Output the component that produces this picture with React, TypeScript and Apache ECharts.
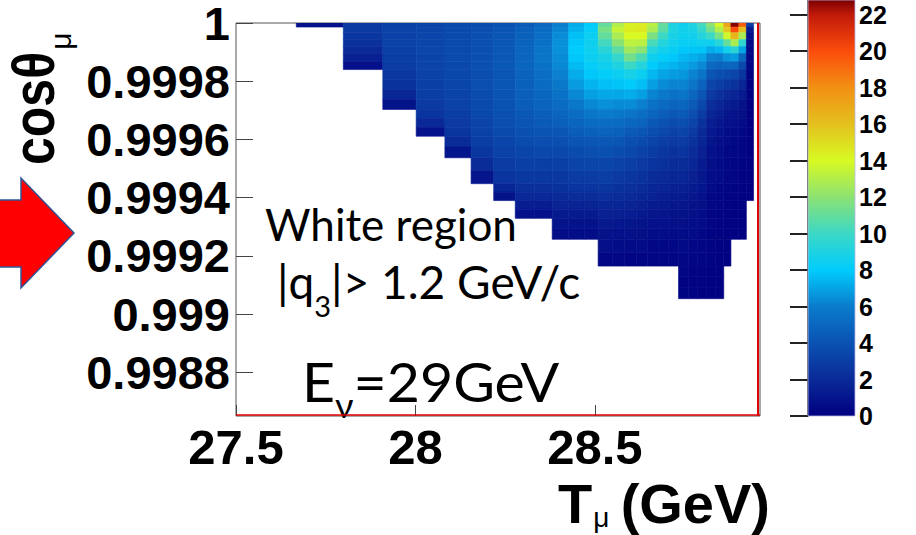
import React, { useEffect, useRef } from "react";
import * as echarts from "echarts";

// Bin edges along T_mu (GeV); the bins narrow towards the kinematic end point
const tMuEdges = [
  27.668, 27.799, 27.909, 28.002, 28.082, 28.155, 28.218, 28.278, 28.332, 28.381,
  28.427, 28.47, 28.509, 28.548, 28.582, 28.615, 28.646, 28.676, 28.705, 28.733,
  28.76, 28.786, 28.811, 28.835, 28.859, 28.879, 28.901, 28.922, 28.942,
];

// Bin edges along cos(theta_mu), from the forward direction downwards
const cosEdges = [
  1.0, 0.999986, 0.999967, 0.999943, 0.999919, 0.999895, 0.999867, 0.99984, 0.999806,
  0.999771, 0.999737, 0.999703, 0.999672, 0.999641, 0.999611, 0.999574, 0.999537,
  0.999492, 0.999448, 0.999419, 0.99939, 0.99936, 0.999329, 0.999293, 0.999257,
  0.999211, 0.999165, 0.999128, 0.99909, 0.999053,
];

// Bin contents, one list per T_mu column, read from the top cos bin downwards.
// Each column stops where the |q3| > 1.2 GeV/c cut removes the phase space.
const binCounts: number[][] = [
  [0.8],
  [2.8, 2.8, 2.6, 2.3, 2.0, 1.5, 0.8],
  [3.1, 3.2, 3.2, 3.2, 3.1, 3.0, 2.9, 2.7, 2.4, 1.8, 0.9],
  [3.3, 3.4, 3.4, 3.4, 3.4, 3.3, 3.3, 3.2, 3.1, 3.0, 2.8, 2.5, 1.9, 0.9],
  [3.5, 3.6, 3.6, 3.6, 3.6, 3.6, 3.5, 3.5, 3.4, 3.3, 3.2, 3.0, 2.8, 2.6, 2.1, 1.0],
  [3.7, 3.8, 3.9, 3.9, 3.9, 3.9, 3.9, 3.8, 3.8, 3.7, 3.6, 3.5, 3.3, 3.2, 3.0, 2.6, 2.1, 1.0],
  [4.0, 4.1, 4.2, 4.3, 4.3, 4.3, 4.3, 4.2, 4.2, 4.1, 4.0, 3.9, 3.8, 3.6, 3.4, 3.2, 2.9, 2.5, 1.8, 0.9],
  [4.4, 4.6, 4.7, 4.8, 4.9, 4.9, 4.9, 4.8, 4.7, 4.6, 4.5, 4.3, 4.1, 3.9, 3.7, 3.4, 3.1, 2.7, 2.3, 1.9, 1.4, 0.8],
  [5.0, 5.2, 5.4, 5.5, 5.6, 5.6, 5.5, 5.4, 5.2, 5.0, 4.8, 4.6, 4.4, 4.1, 3.8, 3.5, 3.1, 2.7, 2.3, 1.9, 1.4, 0.8],
  [6.0, 6.2, 6.4, 6.5, 6.5, 6.4, 6.3, 6.1, 5.8, 5.5, 5.2, 4.9, 4.6, 4.2, 3.9, 3.5, 3.1, 2.7, 2.4, 2.0, 1.7, 1.3, 0.9, 0.6],
  [7.2, 7.4, 7.7, 7.9, 8.0, 7.9, 7.6, 7.2, 6.8, 6.3, 5.8, 5.3, 4.9, 4.5, 4.1, 3.7, 3.3, 2.9, 2.5, 2.1, 1.7, 1.3, 0.9, 0.6],
  [8.0, 8.2, 8.4, 8.5, 8.5, 8.4, 8.2, 7.9, 7.4, 6.9, 6.3, 5.7, 5.2, 4.7, 4.2, 3.8, 3.4, 2.9, 2.5, 2.1, 1.7, 1.3, 0.9, 0.6],
  [11.0, 11.5, 11.0, 10.2, 9.4, 8.8, 8.5, 8.1, 7.7, 7.1, 6.5, 5.9, 5.3, 4.8, 4.3, 3.9, 3.4, 3.0, 2.6, 2.2, 1.8, 1.5, 1.2, 0.9, 0.7, 0.4],
  [13.0, 13.5, 12.8, 11.9, 10.8, 9.8, 9.0, 8.4, 7.8, 7.1, 6.4, 5.8, 5.2, 4.7, 4.2, 3.7, 3.2, 2.8, 2.4, 2.1, 1.8, 1.5, 1.1, 0.8, 0.6, 0.4],
  [14.3, 14.5, 14.0, 13.3, 12.5, 11.4, 10.0, 8.8, 8.0, 7.2, 6.4, 5.6, 5.0, 4.4, 3.9, 3.5, 3.0, 2.6, 2.3, 2.0, 1.7, 1.4, 1.0, 0.8, 0.5, 0.3],
  [14.5, 14.6, 14.0, 13.2, 12.0, 10.4, 9.2, 8.4, 7.7, 6.9, 6.1, 5.4, 4.8, 4.2, 3.7, 3.2, 2.8, 2.4, 2.1, 1.8, 1.5, 1.2, 0.9, 0.7, 0.5, 0.3],
  [13.2, 12.8, 11.6, 10.3, 9.2, 8.5, 8.0, 7.5, 6.9, 6.2, 5.5, 4.9, 4.3, 3.8, 3.3, 2.9, 2.5, 2.1, 1.8, 1.6, 1.3, 1.1, 0.8, 0.6, 0.4, 0.3],
  [11.0, 10.8, 10.0, 9.2, 8.6, 8.1, 7.6, 7.0, 6.4, 5.8, 5.1, 4.5, 4.0, 3.5, 3.0, 2.6, 2.3, 2.0, 1.7, 1.4, 1.2, 1.0, 0.8, 0.6, 0.4, 0.3],
  [9.0, 9.0, 8.8, 8.6, 8.3, 7.9, 7.4, 6.8, 6.2, 5.5, 4.9, 4.3, 3.7, 3.2, 2.8, 2.4, 2.1, 1.8, 1.5, 1.3, 1.1, 0.9, 0.7, 0.5, 0.4, 0.3],
  [8.5, 8.6, 8.5, 8.3, 7.9, 7.5, 7.1, 6.7, 6.2, 5.6, 5.0, 4.4, 3.8, 3.3, 2.9, 2.5, 2.1, 1.8, 1.5, 1.3, 1.1, 0.9, 0.7, 0.6, 0.5, 0.4, 0.3, 0.2, 0.2],
  [9.0, 8.8, 8.6, 8.3, 7.8, 7.3, 6.8, 6.2, 5.6, 5.0, 4.4, 3.8, 3.3, 2.8, 2.4, 2.1, 1.8, 1.5, 1.3, 1.1, 0.9, 0.7, 0.6, 0.5, 0.4, 0.3, 0.2, 0.2, 0.2],
  [10.2, 9.8, 9.2, 8.5, 7.8, 7.0, 6.3, 5.6, 4.8, 4.1, 3.5, 2.9, 2.4, 2.0, 1.8, 1.5, 1.3, 1.1, 1.0, 0.8, 0.7, 0.6, 0.5, 0.4, 0.3, 0.3, 0.2, 0.2, 0.1],
  [12.0, 11.3, 10.0, 8.5, 7.2, 6.1, 5.1, 4.2, 3.4, 2.8, 2.2, 1.8, 1.4, 1.2, 1.0, 0.8, 0.7, 0.6, 0.5, 0.4, 0.4, 0.3, 0.3, 0.2, 0.2, 0.2, 0.1, 0.1, 0.1],
  [14.0, 13.0, 11.5, 9.3, 7.5, 6.0, 4.8, 3.8, 3.0, 2.3, 1.8, 1.4, 1.1, 0.9, 0.7, 0.6, 0.5, 0.5, 0.4, 0.3, 0.3, 0.2, 0.2, 0.2, 0.1, 0.1, 0.1, 0.1, 0.1],
  [17.2, 15.8, 13.8, 11.0, 8.6, 6.6, 5.0, 3.6, 2.6, 1.9, 1.4, 1.0, 0.8, 0.6, 0.5, 0.4, 0.4, 0.3, 0.3, 0.2, 0.2, 0.2, 0.1, 0.1, 0.1, 0.1],
  [22.7, 20.0, 16.5, 12.8, 9.4, 6.8, 4.9, 3.4, 2.4, 1.7, 1.2, 0.9, 0.7, 0.5, 0.4, 0.4, 0.3, 0.3, 0.2, 0.2, 0.1, 0.1, 0.1, 0.1],
  [19.5, 16.0, 12.8, 9.6, 7.0, 5.0, 3.6, 2.6, 1.8, 1.3, 0.9, 0.7, 0.5, 0.4, 0.3, 0.3, 0.2, 0.2, 0.2, 0.1, 0.1, 0.1, 0.1, 0.1],
  [3.0, 1.2, 0.7, 0.5, 0.4, 0.3, 0.3, 0.2, 0.2, 0.2, 0.1, 0.1, 0.1, 0.1, 0.1, 0.1, 0.1, 0.1, 0.1, 0.1],
];

// Axis ranges and tick labels
const xRange = [27.5, 28.96];
const yRange = [0.99865, 1.0];
const zRange = [0, 22.8];
const xTickValues = [27.5, 28, 28.5];
const yTickValues = [0.9988, 0.999, 0.9992, 0.9994, 0.9996, 0.9998, 1];
const zTickValues = [0, 2, 4, 6, 8, 10, 12, 14, 16, 18, 20, 22];

// Rainbow colour palette (value -> colour)
const paletteStops = [0, 2, 4, 6, 8, 10, 12, 14, 16, 18, 20, 22, 22.8];
const paletteColors = [
  "#000080", "#0a2a98", "#0a52b2", "#0a7ccc", "#00ccfc", "#3cd8c6", "#8ce272",
  "#d8fa22", "#e4c01e", "#f29014", "#fc4c0c", "#c01a0a", "#7c0000",
];

const GRID = { left: 236, top: 23, width: 524, height: 393 };
const BAR = { left: 808, top: 0, width: 47, height: 416 };

function hexToRgb(h: string) {
  const n = parseInt(h.slice(1), 16);
  return [(n >> 16) & 255, (n >> 8) & 255, n & 255];
}

function paletteColor(v: number) {
  const lo = paletteStops[0];
  const hi = paletteStops[paletteStops.length - 1];
  const x = Math.min(hi, Math.max(lo, v));
  let i = 0;
  while (i < paletteStops.length - 2 && x > paletteStops[i + 1]) i++;
  const t = (x - paletteStops[i]) / (paletteStops[i + 1] - paletteStops[i]);
  const a = hexToRgb(paletteColors[i]);
  const b = hexToRgb(paletteColors[i + 1]);
  const c = a.map((av, k) => Math.round(av + (b[k] - av) * t));
  return `rgb(${c[0]},${c[1]},${c[2]})`;
}

const fmtTick = (v: number) => String(parseFloat(Number(v).toFixed(4)));

export default function App() {
  const ref = useRef<HTMLDivElement>(null);

  useEffect(() => {
    const el = ref.current;
    if (!el) return;
    const chart = echarts.init(el, null, { renderer: "svg" });

    const ctx = document.createElement("canvas").getContext("2d")!;
    const measure = (t: string, font: string) => {
      ctx.font = font;
      return ctx.measureText(t).width;
    };

    // one rectangle per histogram cell: [x0, x1, cosTop, cosBottom, count]
    const cells: number[][] = [];
    binCounts.forEach((col, c) => {
      col.forEach((v, r) => {
        cells.push([tMuEdges[c], tMuEdges[c + 1], cosEdges[r], cosEdges[r + 1], v]);
      });
    });

    const gradientStops = paletteStops.map((s, i) => ({
      offset: (s - zRange[0]) / (zRange[1] - zRange[0]),
      color: paletteColors[i],
    }));

    const bold = '"Liberation Sans", Arial, sans-serif';
    const sans = 'Lato, "Open Sans", sans-serif';

    // fonts of the in-plot annotations
    const annFont = `44px ${sans}`;
    const qFont = `46px ${sans}`;
    const subFont = `29px ${sans}`;
    const bigFont = `54px ${sans}`;
    const nuFont = `34px ${sans}`;

    const q3w1 = measure("|q", qFont);
    const q3w2 = measure("3", subFont);
    const ew1 = measure("E", bigFont);
    const ew2 = measure("ν", nuFont);

    const yTitleFont = `bold 50px ${bold}`;
    const yTitleW = measure("cosθ", yTitleFont);
    const xTitleFont = `bold 56px ${bold}`;
    const tW = measure("T", xTitleFont);

    const gRight = GRID.left + GRID.width;
    const gBottom = GRID.top + GRID.height;

    const txt = (text: string, font: string, x: number, y: number, extra: any = {}) => ({
      type: "text", x, y, silent: true,
      style: { text, font, fill: "#000", align: "left", verticalAlign: "middle", ...(extra.style || {}) },
      ...(extra.el || {}),
    });

    const option: any = {
      animation: false,
      backgroundColor: "#ffffff",
      grid: [
        {
          left: GRID.left, top: GRID.top, width: GRID.width, height: GRID.height,
          show: true, borderColor: "#555", borderWidth: 1, backgroundColor: "transparent",
          outerBoundsMode: "none",
        },
        {
          left: BAR.left, top: BAR.top, width: BAR.width, height: BAR.height,
          show: false, outerBoundsMode: "none",
        },
      ],
      xAxis: [
        {
          type: "value", gridIndex: 0, min: xRange[0], max: xRange[1],
          axisLine: { show: false },
          splitLine: { show: false },
          axisTick: { show: true, inside: true, length: 11, customValues: xTickValues, lineStyle: { color: "#444", width: 1 } },
          axisLabel: {
            customValues: xTickValues, formatter: fmtTick, margin: 6,
            fontSize: 49, fontWeight: "bold", fontFamily: bold, color: "#000",
          },
        },
        { type: "value", gridIndex: 1, min: 0, max: 1, show: false },
      ],
      yAxis: [
        {
          type: "value", gridIndex: 0, min: yRange[0], max: yRange[1],
          axisLine: { show: false },
          splitLine: { show: false },
          axisTick: { show: true, inside: true, length: 17, customValues: yTickValues, lineStyle: { color: "#444", width: 1 } },
          axisLabel: {
            customValues: yTickValues, formatter: fmtTick, margin: 6, padding: [6, 0, 0, 0],
            lineHeight: 38,
            fontSize: 47, fontWeight: "bold", fontFamily: bold, color: "#000",
          },
        },
        {
          type: "value", gridIndex: 1, position: "right", min: zRange[0], max: zRange[1],
          axisLine: { show: true, lineStyle: { color: "#222", width: 1.5 } },
          splitLine: { show: false },
          axisTick: { show: true, inside: true, length: 18, customValues: zTickValues, lineStyle: { color: "#222", width: 2 } },
          axisLabel: {
            customValues: zTickValues, margin: 4,
            fontSize: 25, fontWeight: "bold", fontFamily: bold, color: "#000",
          },
        },
      ],
      series: [
        {
          type: "custom",
          xAxisIndex: 0, yAxisIndex: 0,
          silent: true, clip: true,
          encode: { x: [0, 1], y: [2, 3] },
          data: cells,
          renderItem: (params: any, api: any) => {
            const p0 = api.coord([api.value(0), api.value(2)]);
            const p1 = api.coord([api.value(1), api.value(3)]);
            const col = paletteColor(api.value(4));
            return {
              type: "rect",
              shape: { x: p0[0], y: p0[1], width: p1[0] - p0[0], height: p1[1] - p0[1] },
              style: { fill: col, stroke: col, lineWidth: 0.6 },
            };
          },
        },
        {
          type: "custom",
          xAxisIndex: 1, yAxisIndex: 1,
          silent: true,
          encode: { x: [0, 1], y: [2, 3] },
          data: [[0, 1, zRange[1], zRange[0]]],
          renderItem: (params: any, api: any) => {
            const p0 = api.coord([api.value(0), api.value(2)]);
            const p1 = api.coord([api.value(1), api.value(3)]);
            return {
              type: "rect",
              shape: { x: p0[0], y: p0[1], width: p1[0] - p0[0], height: p1[1] - p0[1] },
              style: {
                fill: new echarts.graphic.LinearGradient(0, 1, 0, 0, gradientStops),
                stroke: "#b8b8e8", lineWidth: 0.8,
              },
            };
          },
        },
      ],
      graphic: [
        // frame accents on the right and bottom edges
        { type: "line", silent: true, shape: { x1: gRight - 2, y1: GRID.top, x2: gRight - 2, y2: gBottom }, style: { stroke: "#e00000", lineWidth: 2 }, z: 10 },
        { type: "line", silent: true, shape: { x1: GRID.left, y1: gBottom - 1, x2: gRight, y2: gBottom - 1 }, style: { stroke: "#e00000", lineWidth: 1.5 }, z: 10 },
        // red pointer arrow
        {
          type: "polygon", silent: true,
          shape: { points: [[-2, 200], [21, 200], [21, 178], [74, 233], [21, 288], [21, 267], [-2, 267]] },
          style: { fill: "#ff0000", stroke: "#2f5597", lineWidth: 1.5 },
        },
        // y axis title, reading upwards
        txt("cosθ", yTitleFont, 33, 165, { el: { rotation: Math.PI / 2, scaleY: 1.2 } }),
        txt("μ", `30px ${bold}`, 60, 165 - yTitleW - 2, { el: { rotation: Math.PI / 2 } }),
        // x axis title
        txt("T", xTitleFont, 558, 531, { style: { verticalAlign: "bottom" } }),
        txt("μ", `28px ${bold}`, 558 + tW + 1, 531, { style: { verticalAlign: "bottom" } }),
        txt("(GeV)", xTitleFont, 770, 531, { style: { align: "right", verticalAlign: "bottom" } }),
        // annotations
        txt("White region", annFont, 265, 224),
        txt("|q", qFont, 277, 281),
        txt("3", subFont, 277 + q3w1, 305),
        txt("|> 1.2 GeV/c", qFont, 277 + q3w1 + q3w2, 281),
        {
          type: "group", x: 302, y: 0, scaleX: 1.06, silent: true,
          children: [
            txt("E", bigFont, 0, 381),
            txt("ν", nuFont, ew1, 404),
            txt("=29GeV", bigFont, ew1 + ew2, 381),
          ],
        },
      ],
    };

    chart.setOption(option);
    return () => chart.dispose();
  }, []);

  return (
    <div
      ref={ref}
      style={{ position: "absolute", left: 0, top: 0, width: 916, height: 535, background: "#fff" }}
    />
  );
}
